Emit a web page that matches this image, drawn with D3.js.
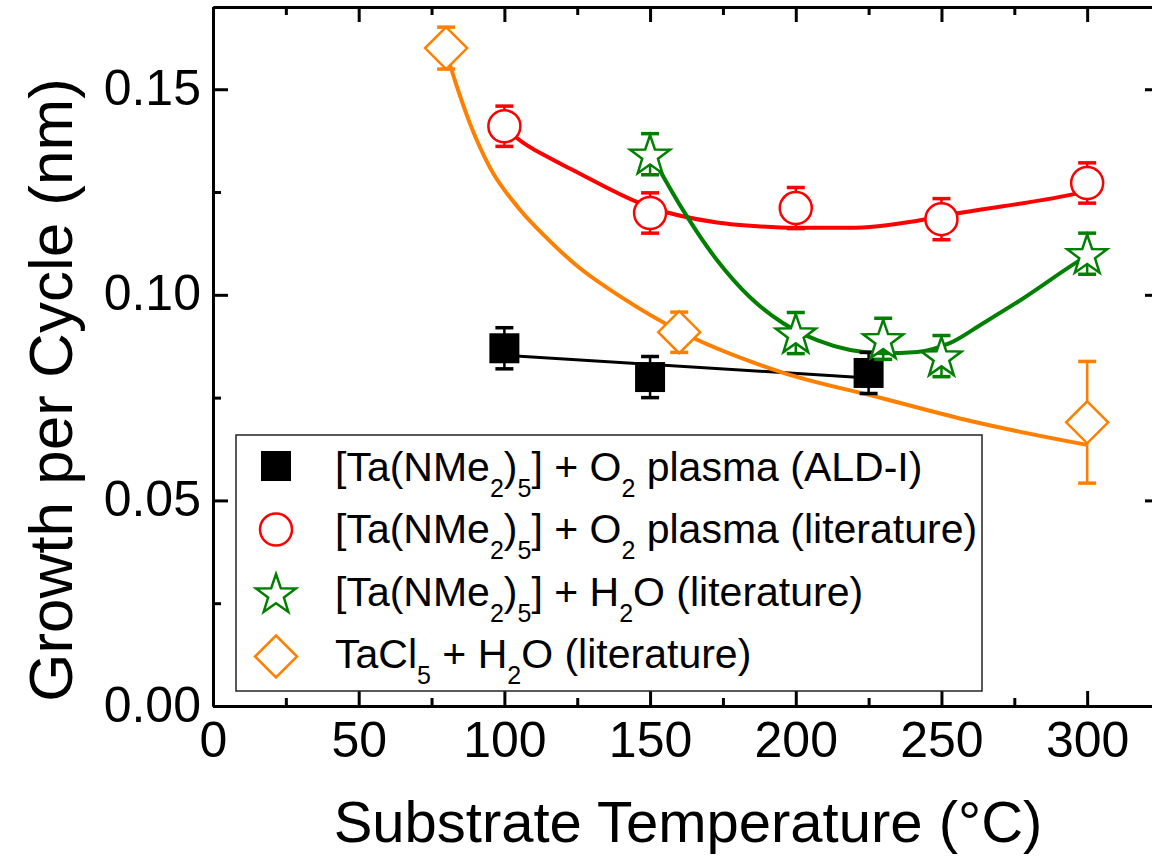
<!DOCTYPE html>
<html>
<head>
<meta charset="utf-8">
<script src="https://cdn.jsdelivr.net/npm/d3@7"></script>
<style>
  body { margin: 0; background: #fff; }
  svg { display: block; font-family: "Liberation Sans", Arial, sans-serif; }
</style>
</head>
<body>
<div id="chart"></div>
<script>
// measured points (temperature in °C, growth per cycle in nm, error in nm)
const aldT = [100, 150, 225];
const aldG = [0.0870, 0.0800, 0.0810];
const aldE = [0.005, 0.005, 0.005];

const plasT = [100, 150, 200, 250, 300];
const plasG = [0.1410, 0.1199, 0.1211, 0.1184, 0.1272];
const plasE = [0.0049, 0.0049, 0.0050, 0.0050, 0.0049];

const h2oT = [150, 200, 230, 250, 300];
const h2oG = [0.1342, 0.0907, 0.0893, 0.0851, 0.1100];
const h2oE = [0.005, 0.005, 0.005, 0.005, 0.005];

const clT = [80, 160, 300];
const clG = [0.1600, 0.0909, 0.0690];
const clE = [0.0051, 0.0049, 0.0148];

// guide-to-the-eye curves
const aldFitT = [100, 225];
const aldFitG = [0.0853, 0.0798];
const plasFitT = [100, 104.4, 115.7, 123.6, 150, 173, 184.3, 200, 218.7, 241.7, 254.7, 294.2, 300];
const plasFitG = [0.1410, 0.1381, 0.1332, 0.1303, 0.1213, 0.1176, 0.1168, 0.1163, 0.1163, 0.1180, 0.1197, 0.1243, 0.1252];
const h2oFitT = [150, 161.3, 173, 184.3, 195.7, 207.3, 218.7, 230, 241.7, 253, 264.3, 276, 296.6, 300];
const h2oFitG = [0.1345, 0.1206, 0.1084, 0.0994, 0.0931, 0.0890, 0.0866, 0.0858, 0.0861, 0.0883, 0.0931, 0.0982, 0.1080, 0.1095];
const clFitT = [80, 84, 88, 95, 105, 115, 125, 140, 160, 195, 230, 260, 300];
const clFitG = [0.1590, 0.1500, 0.1420, 0.1310, 0.1210, 0.1135, 0.1070, 0.0995, 0.0912, 0.0812, 0.0748, 0.0693, 0.0635];

const xTicks = [0, 50, 100, 150, 200, 250, 300];
const xMinor = [25, 75, 125, 175, 225, 275, 325];
const yTicks = [0, 0.05, 0.10, 0.15];
const yMinor = [0.025, 0.075, 0.125];

const width = 1152, height = 858;
const svg = d3.select("#chart").append("svg")
  .attr("width", width)
  .attr("height", height);

const x = d3.scaleLinear().domain([0, 325]).range([213, 1160]);
const y = d3.scaleLinear().domain([0, 0.17]).range([706, 7]);

const zip = (a, b) => a.map((v, i) => [v, b[i]]);

// axes
function styleAxis(g) {
  g.selectAll("path.domain").attr("stroke", "#000").attr("stroke-width", 3);
  g.selectAll(".tick line").attr("stroke", "#000").attr("stroke-width", 3);
  g.selectAll(".tick text").attr("font-size", 50).attr("fill", "#000");
}

svg.append("g").attr("transform", `translate(0,${y(0)})`)
  .call(d3.axisBottom(x).tickValues(xMinor).tickSizeInner(-8).tickSizeOuter(0).tickFormat(""))
  .call(styleAxis);
svg.append("g").attr("transform", `translate(0,${y(0)})`)
  .call(d3.axisBottom(x).tickValues(xTicks).tickSizeInner(-15).tickSizeOuter(0).tickPadding(15).tickFormat(d3.format("d")))
  .call(styleAxis);
svg.append("g").attr("transform", `translate(0,${y(0.17)})`)
  .call(d3.axisTop(x).tickValues(xMinor).tickSizeInner(-8).tickSizeOuter(0).tickFormat(""))
  .call(styleAxis);
svg.append("g").attr("transform", `translate(0,${y(0.17)})`)
  .call(d3.axisTop(x).tickValues(xTicks).tickSizeInner(-15).tickSizeOuter(0).tickFormat(""))
  .call(styleAxis);

svg.append("g").attr("transform", `translate(${x(0)},0)`)
  .call(d3.axisLeft(y).tickValues(yMinor).tickSizeInner(-8).tickSizeOuter(0).tickFormat(""))
  .call(styleAxis);
svg.append("g").attr("transform", `translate(${x(0)},0)`)
  .call(d3.axisLeft(y).tickValues(yTicks).tickSizeInner(-15).tickSizeOuter(0).tickPadding(12).tickFormat(d3.format(".2f")))
  .call(styleAxis)
  .call(g => g.selectAll(".tick text").attr("dy", 15));
svg.append("g").attr("transform", `translate(${x(325)},0)`)
  .call(d3.axisRight(y).tickValues(yMinor).tickSizeInner(-8).tickSizeOuter(0).tickFormat(""))
  .call(styleAxis);
svg.append("g").attr("transform", `translate(${x(325)},0)`)
  .call(d3.axisRight(y).tickValues(yTicks).tickSizeInner(-15).tickSizeOuter(0).tickFormat(""))
  .call(styleAxis);

// axis titles
svg.append("text")
  .attr("x", 688).attr("y", 842)
  .attr("text-anchor", "middle")
  .attr("font-size", 58)
  .text("Substrate Temperature (°C)");
svg.append("text")
  .attr("transform", "translate(72,390) rotate(-90)")
  .attr("text-anchor", "middle")
  .attr("font-size", 62)
  .text("Growth per Cycle (nm)");

// fit curves
const line = d3.line().x(d => x(d[0])).y(d => y(d[1]));
const smooth = d3.line().x(d => x(d[0])).y(d => y(d[1])).curve(d3.curveMonotoneX);

svg.append("path").attr("d", line(zip(aldFitT, aldFitG)))
  .attr("fill", "none").attr("stroke", "#000").attr("stroke-width", 3);
svg.append("path").attr("d", smooth(zip(plasFitT, plasFitG)))
  .attr("fill", "none").attr("stroke", "#ff0000").attr("stroke-width", 4);
svg.append("path").attr("d", smooth(zip(h2oFitT, h2oFitG)))
  .attr("fill", "none").attr("stroke", "#007f00").attr("stroke-width", 4);
svg.append("path").attr("d", smooth(zip(clFitT, clFitG)))
  .attr("fill", "none").attr("stroke", "#ff8000").attr("stroke-width", 4);

// marker shapes
function shapePath(type) {
  const p = d3.path();
  if (type === "square") {
    p.rect(-15, -15, 30, 30);
  } else if (type === "circle") {
    p.arc(0, 0, 16, 0, 2 * Math.PI);
  } else if (type === "diamond") {
    p.moveTo(0, -21); p.lineTo(21, 0); p.lineTo(0, 21); p.lineTo(-21, 0); p.closePath();
  } else if (type === "star") {
    for (let i = 0; i < 10; i++) {
      const r = i % 2 === 0 ? 21 : 8.3;
      const a = -Math.PI / 2 + i * Math.PI / 5;
      const px = r * Math.cos(a), py = r * Math.sin(a) + 2;
      if (i === 0) p.moveTo(px, py); else p.lineTo(px, py);
    }
    p.closePath();
  }
  return p.toString();
}

const series = [
  { T: aldT, G: aldG, E: aldE, color: "#000", shape: "square", filled: true },
  { T: plasT, G: plasG, E: plasE, color: "#ff0000", shape: "circle", filled: false },
  { T: h2oT, G: h2oG, E: h2oE, color: "#007f00", shape: "star", filled: false },
  { T: clT, G: clG, E: clE, color: "#ff8000", shape: "diamond", filled: false }
];

series.forEach(s => {
  const pts = s.T.map((t, i) => ({ t: t, g: s.G[i], e: s.E[i] }));
  const eb = svg.append("g");
  eb.selectAll("line.v").data(pts).enter().append("line")
    .attr("x1", d => x(d.t)).attr("x2", d => x(d.t))
    .attr("y1", d => y(d.g - d.e)).attr("y2", d => y(d.g + d.e))
    .attr("stroke", s.color).attr("stroke-width", 2.5);
  [-1, 1].forEach(sign => {
    eb.selectAll(null).data(pts).enter().append("line")
      .attr("x1", d => x(d.t) - 9).attr("x2", d => x(d.t) + 9)
      .attr("y1", d => y(d.g + sign * d.e)).attr("y2", d => y(d.g + sign * d.e))
      .attr("stroke", s.color).attr("stroke-width", 3.5);
  });
  svg.append("g").selectAll("path").data(pts).enter().append("path")
    .attr("transform", d => `translate(${x(d.t)},${y(d.g)})`)
    .attr("d", shapePath(s.shape))
    .attr("fill", s.filled ? s.color : "#fff")
    .attr("stroke", s.color)
    .attr("stroke-width", s.filled ? 0 : 2.5);
});

// legend
const legend = svg.append("g");
legend.append("rect")
  .attr("x", 236).attr("y", 435).attr("width", 746).attr("height", 256)
  .attr("fill", "#fff").attr("stroke", "#222").attr("stroke-width", 1.5);

const legendRows = [
  [["[Ta(NMe", 0], ["2", 1], [")", 0], ["5", 1], ["] + O", 0], ["2", 1], [" plasma (ALD-I)", 0]],
  [["[Ta(NMe", 0], ["2", 1], [")", 0], ["5", 1], ["] + O", 0], ["2", 1], [" plasma (literature)", 0]],
  [["[Ta(NMe", 0], ["2", 1], [")", 0], ["5", 1], ["] + H", 0], ["2", 1], ["O (literature)", 0]],
  [["TaCl", 0], ["5", 1], [" + H", 0], ["2", 1], ["O (literature)", 0]]
];

legendRows.forEach((parts, i) => {
  const s = series[i];
  const cy = 466 + i * 63.5;
  legend.append("path")
    .attr("transform", `translate(276,${cy})`)
    .attr("d", shapePath(s.shape))
    .attr("fill", s.filled ? s.color : "#fff")
    .attr("stroke", s.color)
    .attr("stroke-width", s.filled ? 0 : 2.5);
  const t = legend.append("text")
    .attr("x", 335).attr("y", 481 + i * 62.3)
    .attr("font-size", 41);
  let shifted = false;
  parts.forEach(([str, sub]) => {
    const ts = t.append("tspan").text(str);
    if (sub && !shifted) { ts.attr("dy", 16).attr("font-size", 25); shifted = true; }
    else if (sub) { ts.attr("font-size", 25); }
    else if (shifted) { ts.attr("dy", -16); shifted = false; }
  });
});
</script>
</body>
</html>
